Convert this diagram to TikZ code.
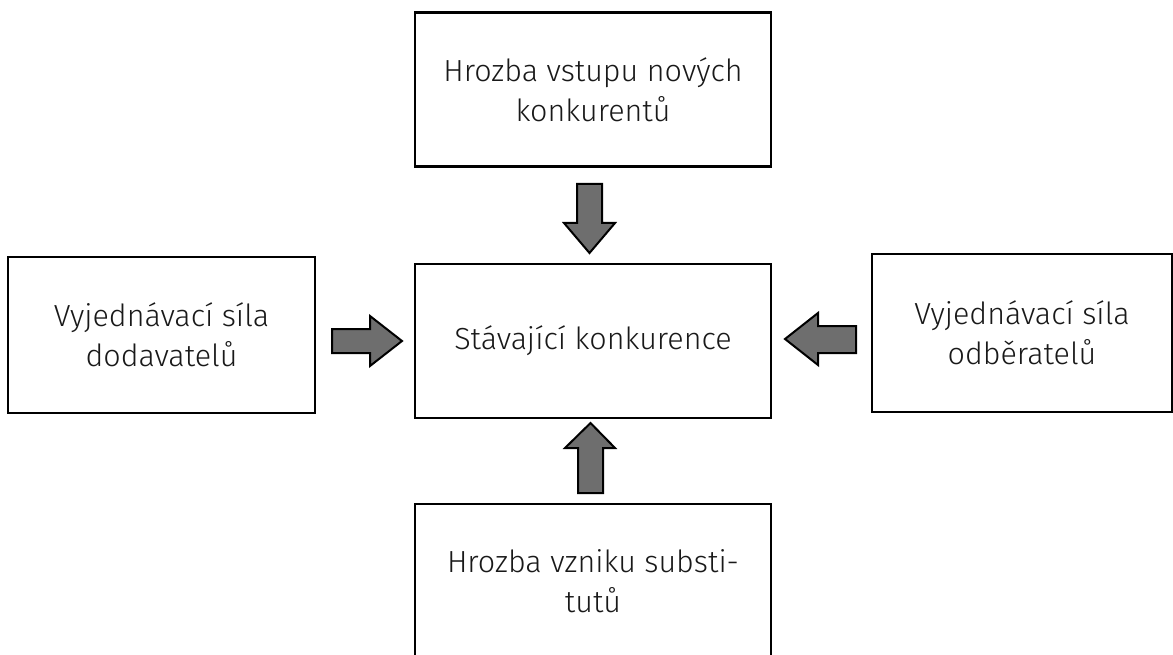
\documentclass[tikz,border=0pt]{standalone}
\usepackage{fontspec}
\setmainfont{Fira Sans Light}
\begin{document}
\begin{tikzpicture}[x=1pt,y=-1pt,
  box/.style={draw=black, line width=2.6pt, fill=white, rectangle, align=center,
    inner sep=0pt, font=\fontsize{30.5}{40}\selectfont, text=black!90},
  blockarrow/.style={draw=black, line width=2pt, fill=black!57, line join=miter}]
\useasboundingbox (0,0) rectangle (1173,655);
\fill[white] (0,0) rectangle (1173,655);
\node[box, minimum width=356pt, minimum height=154pt] (top) at (593,89.5) {Hrozba vstupu nových\\konkurentů};
\node[box, minimum width=356pt, minimum height=154pt] (center) at (593,341) {Stávající konkurence};
\node[box, minimum width=307pt, minimum height=156pt] (left) at (161.5,335) {Vyjednávací síla\\dodavatelů};
\node[box, minimum width=300pt, minimum height=158pt] (right) at (1022,333) {Vyjednávací síla\\odběratelů};
\node[box, minimum width=356pt, minimum height=154pt] (bottom) at (593,581) {Hrozba vzniku substi-\\tutů};
% top -> center
\draw[blockarrow] (577,184) -- (602,184) -- (602,223) -- (615,223) -- (589.5,253) -- (564,223) -- (577,223) -- cycle;
% bottom -> center
\draw[blockarrow] (578,493) -- (603,493) -- (603,448) -- (615,448) -- (590.5,423) -- (565,448) -- (578,448) -- cycle;
% left -> center
\draw[blockarrow] (332,329) -- (370,329) -- (370,316) -- (402,341) -- (370,366) -- (370,353) -- (332,353) -- cycle;
% right -> center
\draw[blockarrow] (856,326) -- (818,326) -- (818,313) -- (785,339) -- (818,365) -- (818,353) -- (856,353) -- cycle;
\end{tikzpicture}
\end{document}
